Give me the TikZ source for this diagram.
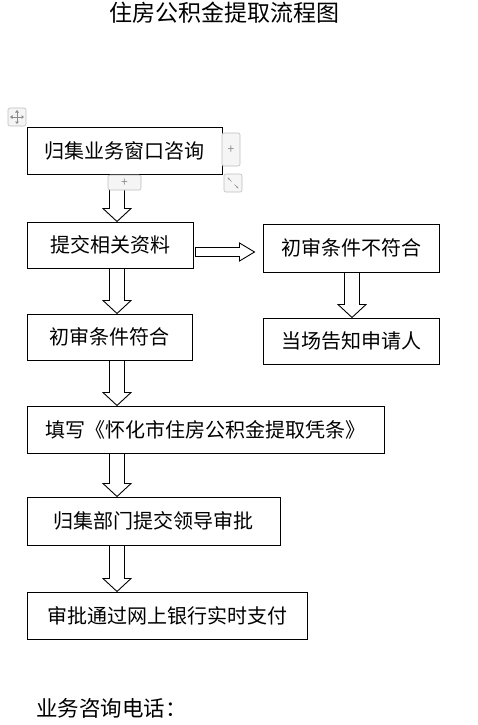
\documentclass[tikz,border=0pt]{standalone}
\usepackage{fontspec}
\setmainfont{Noto Sans CJK SC}
\usetikzlibrary{calc,arrows.meta}
\tikzset{
  box/.style={draw=black, line width=1pt, fill=white, inner sep=0pt, font=\fontsize{20}{22}\selectfont},
  blk/.style={draw=black, line width=0.9pt, fill=white, line join=miter},
  uibtn/.style={draw=black!25, fill=black!4, line width=0.6pt, rounded corners=2pt, inner sep=0pt},
}
\newcommand\varrow[2]{\draw[blk] let \p1=(#1), \p2=(#2) in
  ($(\x1-7.5pt,\y1)$) -- ($(\x1+7.5pt,\y1)$) -- ($(\x1+7.5pt,\y2+13pt)$) -- ($(\x1+14pt,\y2+13pt)$)
  -- (\x1,\y2) -- ($(\x1-14pt,\y2+13pt)$) -- ($(\x1-7.5pt,\y2+13pt)$) -- cycle;}
\newcommand\harrow[2]{\draw[blk] let \p1=(#1), \p2=(#2) in
  ($(\x1,\y1+4.5pt)$) -- ($(\x2-15pt,\y1+4.5pt)$) -- ($(\x2-15pt,\y1+9pt)$) -- (\x2,\y1)
  -- ($(\x2-15pt,\y1-9pt)$) -- ($(\x2-15pt,\y1-4.5pt)$) -- ($(\x1,\y1-4.5pt)$) -- cycle;}
\begin{document}
\begin{tikzpicture}[x=1pt,y=-1pt]
\useasboundingbox (0,0) rectangle (478,725);
\fill[white] (0,0) rectangle (478,725);
% title
\node[font=\fontsize{23}{24}\selectfont, inner sep=0pt] (title) at (224,13) {住房公积金提取流程图};
% boxes
\node[box, minimum width=195pt, minimum height=47pt] (b1) at (124.5,150.5) {归集业务窗口咨询};
\node[box, minimum width=166pt, minimum height=46pt] (b2) at (110,245) {提交相关资料};
\node[box, minimum width=176pt, minimum height=48pt] (b3) at (351,248) {初审条件不符合};
\node[box, minimum width=176pt, minimum height=46pt] (b4) at (351,341) {当场告知申请人};
\node[box, minimum width=165pt, minimum height=46pt] (b5) at (109.5,337) {初审条件符合};
\node[box, minimum width=357pt, minimum height=47pt] (b6) at (205.5,429.5) {填写《怀化市住房公积金提取凭条》};
\node[box, minimum width=253pt, minimum height=48pt] (b7) at (153.5,521) {归集部门提交领导审批};
\node[box, minimum width=280pt, minimum height=47pt] (b8) at (167,615.5) {审批通过网上银行实时支付};
% columns / rows for arrows
\coordinate (colL) at (117,0);
\coordinate (colR) at (352,0);
\coordinate (rowH) at (0,252);
% arrows
\varrow{b1.south -| colL}{b2.north -| colL}
\varrow{b2.south -| colL}{b5.north -| colL}
\varrow{b5.south -| colL}{b6.north -| colL}
\varrow{b6.south -| colL}{b7.north -| colL}
\varrow{b7.south -| colL}{b8.north -| colL}
\varrow{b3.south -| colR}{b4.north -| colR}
\harrow{$(b2.east |- rowH)+(2,0)$}{$(b3.west |- rowH)+(-8,0)$}
% bottom text
\node[font=\fontsize{21.5}{23}\selectfont, anchor=west, inner sep=0pt] (tel) at (36,708) {业务咨询电话：};
% editor handles
\node[uibtn, minimum width=18pt, minimum height=18pt] (mv) at (17,117) {};
\draw[black!45, line width=0.7pt] ($(mv.center)+(-6,0)$) -- ($(mv.center)+(6,0)$) ($(mv.center)+(0,-6)$) -- ($(mv.center)+(0,6)$);
\fill[black!45] ($(mv.center)+(-7,0)$) -- ++(2.5,-2) -- ++(0,4) -- cycle
  ($(mv.center)+(7,0)$) -- ++(-2.5,-2) -- ++(0,4) -- cycle
  ($(mv.center)+(0,-7)$) -- ++(-2,2.5) -- ++(4,0) -- cycle
  ($(mv.center)+(0,7)$) -- ++(-2,-2.5) -- ++(4,0) -- cycle;
\node[uibtn, minimum width=18pt, minimum height=33pt, text=black!45, font=\large] (pr) at (231,149.5) {+};
\node[uibtn, minimum width=33pt, minimum height=15pt, text=black!45, font=\large] (pb) at (124.5,182.5) {+};
\node[uibtn, minimum width=18pt, minimum height=18pt] (rs) at (233,183) {};
\draw[black!45, line width=0.6pt, -{Stealth[length=2.5pt]}] ($(rs.center)+(-1.5,-1.5)$) -- ($(rs.center)+(-5.5,-5.5)$);
\draw[black!45, line width=0.6pt, -{Stealth[length=2.5pt]}] ($(rs.center)+(1.5,1.5)$) -- ($(rs.center)+(5.5,5.5)$);
\end{tikzpicture}
\end{document}
